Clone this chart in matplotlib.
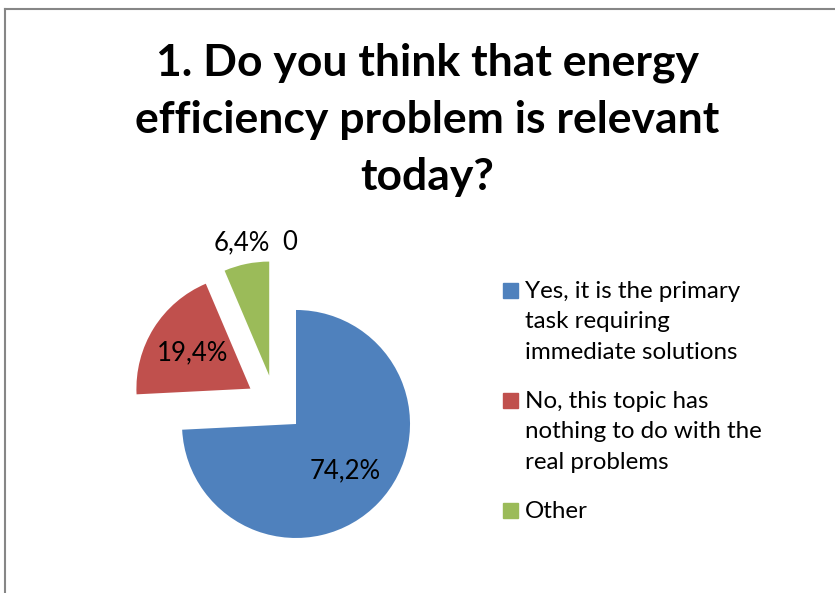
import numpy as np
import matplotlib
matplotlib.use("Agg")
import matplotlib.pyplot as plt
from matplotlib.patches import Rectangle
from matplotlib.lines import Line2D

plt.rcParams['font.family'] = ['Lato', 'DejaVu Sans']

title = "1. Do you think that energy\nefficiency problem is relevant\ntoday?"
categories = ["Yes, it is the primary\ntask requiring\nimmediate solutions",
              "No, this topic has\nnothing to do with the\nreal problems",
              "Other",
              ""]
values = [74.2, 19.4, 6.4, 0]
value_labels = ["74,2%", "19,4%", "6,4%", "0"]
colors = ["#4F81BD", "#C0504D", "#9BBB59", "#8064A2"]

W, H = 835, 593
fig = plt.figure(figsize=(W / 100, H / 100), dpi=100)
ax = fig.add_axes([0, 0, 1, 1])

R = 114
wedges, _ = ax.pie(values, colors=colors, startangle=90, counterclock=False,
                   radius=R, center=(275, H - 404), explode=[29] * len(values),
                   wedgeprops=dict(linewidth=0))
ax.set_xlim(0, W)
ax.set_ylim(0, H)
ax.axis('off')

# data labels: big slices inside, small ones outside
for w, lab, v in zip(wedges, value_labels, values):
    tm = np.deg2rad((w.theta1 + w.theta2) / 2)
    d = 0.6 if v > 10 else 1.19
    cx, cy = w.center
    pos = (cx + d * R * np.cos(tm), cy + d * R * np.sin(tm))
    if v == 0:
        # excel pushes the empty slice label aside
        ax.annotate(lab, pos, xytext=(5, -2), textcoords='offset points',
                    ha='left', va='center', fontsize=18.5)
    else:
        ax.text(pos[0], pos[1], lab, ha='center', va='center', fontsize=18.5)

fig.text(427 / W, 1 - 120 / H, title, ha='center', va='center', fontsize=32,
         fontweight='bold', linespacing=1.51)

# legend, first three entries only
for i, (lab, col) in enumerate(zip(categories[:3], colors[:3])):
    y = 290 + i * 110
    fig.patches.append(Rectangle((503 / W, 1 - (y + 7.5) / H), 15 / W, 15 / H,
                                 transform=fig.transFigure, color=col))
    fig.text(525 / W, 1 - (y - 9.5) / H, lab, ha='left', va='top', fontsize=17.4,
             linespacing=1.58)

# chart border (left and top visible)
fig.add_artist(Line2D([4.5 / W, 4.5 / W], [0, 1 - 8.5 / H], color='#868686', lw=1.5,
                      transform=fig.transFigure))
fig.add_artist(Line2D([4.5 / W, 1], [1 - 8.5 / H, 1 - 8.5 / H], color='#868686', lw=1.5,
                      transform=fig.transFigure))

fig.savefig("out.png", dpi=100, facecolor='white')
